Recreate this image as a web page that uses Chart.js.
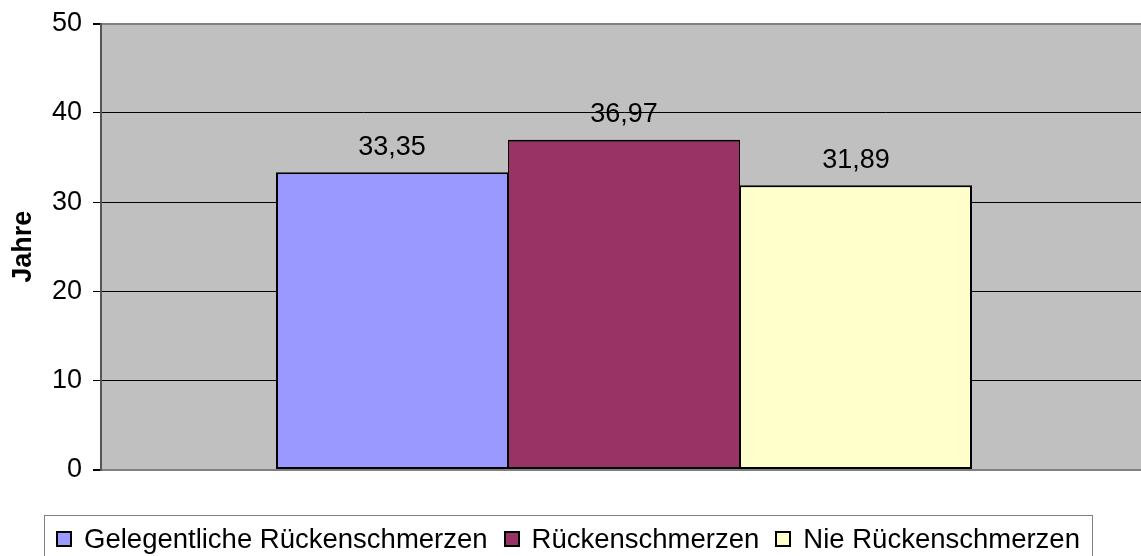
<!DOCTYPE html>
<html lang="de">
<head>
<meta charset="utf-8">
<title>Alter nach Rückenschmerzen</title>
<script src="https://cdn.jsdelivr.net/npm/chart.js@4/dist/chart.umd.min.js"></script>
<style>
  html, body { margin: 0; padding: 0; background: #ffffff; }
  #wrap { width: 1141px; height: 556px; overflow: hidden; }
  canvas { display: block; }
</style>
</head>
<body>
<div id="wrap"><canvas id="chart" width="1147" height="556"></canvas></div>
<script>
// Data: mean age (years) per back-pain group
const categories = [''];
const seriesLabels = ['Gelegentliche Rückenschmerzen', 'Rückenschmerzen', 'Nie Rückenschmerzen'];
const gelegentlich = [33.35];
const rueckenschmerzen = [36.97];
const nie = [31.89];
const yTicks = [0, 10, 20, 30, 40, 50];
const axisTitle = 'Jahre';

const FONT = "'Liberation Sans', Arial, sans-serif";
const fmt = v => v.toFixed(2).replace('.', ',');

// grey plot background
const plotBackground = {
  id: 'plotBackground',
  beforeDraw(chart) {
    const { ctx, chartArea: a } = chart;
    ctx.save();
    ctx.fillStyle = '#c0c0c0';
    ctx.fillRect(a.left, a.top, a.right - a.left, a.bottom - a.top);
    ctx.restore();
  }
};

// value labels above each bar
const valueLabels = {
  id: 'valueLabels',
  afterDatasetsDraw(chart) {
    const { ctx } = chart;
    ctx.save();
    ctx.font = '27px ' + FONT;
    ctx.fillStyle = '#000';
    ctx.textAlign = 'center';
    ctx.textBaseline = 'middle';
    chart.data.datasets.forEach((ds, i) => {
      chart.getDatasetMeta(i).data.forEach((bar, j) => {
        ctx.fillText(fmt(ds.data[j]), bar.x, bar.y - 25);
      });
    });
    ctx.restore();
  }
};

// framed legend row below the plot
const boxedLegend = {
  id: 'boxedLegend',
  afterDraw(chart) {
    const { ctx } = chart;
    const frame = { left: 44, right: 1092, top: 515, bottom: 580 };
    const box = 16, gapText = 12, gapItem = 16, midY = 539;
    ctx.save();
    ctx.font = '27.5px ' + FONT;
    const items = chart.data.datasets.map(ds => ({
      label: ds.label, color: ds.backgroundColor, w: ctx.measureText(ds.label).width
    }));
    const total = items.reduce((s, it) => s + box + gapText + it.w, 0) + gapItem * (items.length - 1);
    let x = (frame.left + frame.right) / 2 - total / 2;
    ctx.strokeStyle = '#808080';
    ctx.lineWidth = 1;
    ctx.strokeRect(frame.left + 0.5, frame.top + 0.5, frame.right - frame.left, frame.bottom - frame.top);
    ctx.textBaseline = 'middle';
    ctx.textAlign = 'left';
    items.forEach(it => {
      const bx = Math.round(x);
      ctx.fillStyle = '#000';
      ctx.fillRect(bx, midY - box / 2, box, box);
      ctx.fillStyle = it.color;
      ctx.fillRect(bx + 2, midY - box / 2 + 2, box - 4, box - 4);
      ctx.fillStyle = '#000';
      ctx.fillText(it.label, x + box + gapText, midY + 1);
      x += box + gapText + it.w + gapItem;
    });
    ctx.restore();
  }
};

const colors = ['#9999ff', '#993366', '#ffffcc'];
const borders = [
  { left: 2, right: 1, top: 2, bottom: 2 },
  { left: 1, right: 1, top: 2, bottom: 2 },
  { left: 1, right: 2, top: 2, bottom: 2 }
];
const seriesData = [gelegentlich, rueckenschmerzen, nie];

new Chart(document.getElementById('chart'), {
  type: 'bar',
  data: {
    labels: categories,
    datasets: seriesLabels.map((label, i) => ({
      label,
      data: seriesData[i],
      backgroundColor: colors[i],
      borderColor: '#000',
      borderWidth: borders[i],
      borderSkipped: false,
      inflateAmount: 0,
      barPercentage: 1,
      categoryPercentage: 696 / 1046
    }))
  },
  options: {
    responsive: false,
    animation: false,
    devicePixelRatio: 1,
    layout: { padding: { top: 23.5, left: 0, right: 0, bottom: 86 } },
    plugins: {
      legend: { display: false },
      tooltip: { enabled: false }
    },
    scales: {
      x: { display: false, offset: true },
      y: {
        min: 0,
        max: 50,
        afterBuildTicks(scale) { scale.ticks = yTicks.map(v => ({ value: v })); },
        afterFit(scale) {
          scale.width = 101;
          scale.paddingTop = 0;
          scale.paddingBottom = 0;
        },
        ticks: {
          font: { family: FONT, size: 27 },
          color: '#000',
          padding: 11
        },
        grid: {
          color: ctx => (ctx.tick && (ctx.tick.value === 0 || ctx.tick.value === 50)) ? '#808080' : '#000',
          lineWidth: ctx => (ctx.tick && (ctx.tick.value === 0 || ctx.tick.value === 50)) ? 2 : 1,
          tickLength: 8,
          tickColor: '#000'
        },
        border: { color: '#555', width: 2 },
        title: {
          display: true,
          text: axisTitle,
          font: { family: FONT, size: 27, weight: 'bold' },
          color: '#000',
          padding: { top: 7, bottom: 0 }
        }
      }
    }
  },
  plugins: [plotBackground, valueLabels, boxedLegend]
});
</script>
</body>
</html>
